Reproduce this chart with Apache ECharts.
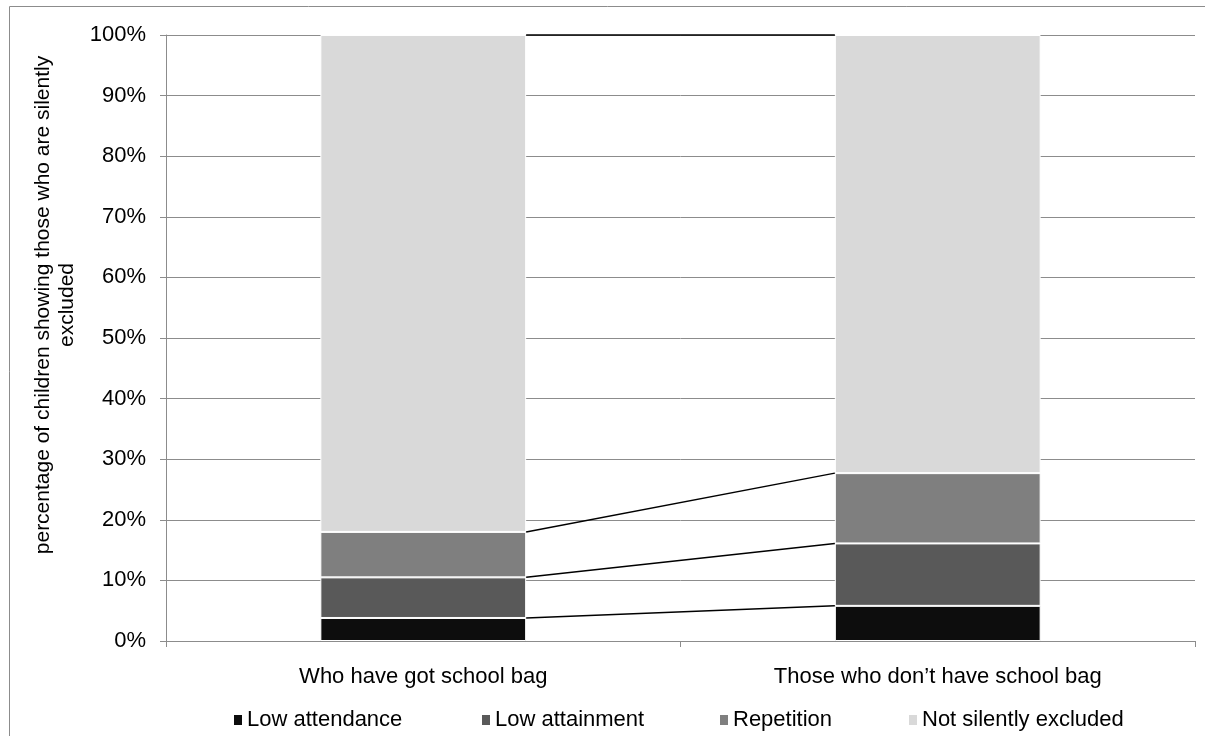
<!DOCTYPE html>
<html>
<head>
<meta charset="utf-8">
<script src="https://cdn.jsdelivr.net/npm/echarts@6/dist/echarts.min.js"></script>
<style>
html,body{margin:0;padding:0;background:#fff;}
#chart{width:1205px;height:736px;}
</style>
</head>
<body>
<div id="chart"></div>
<script>
const categories = ['Who have got school bag', 'Those who don\u2019t have school bag'];
const seriesNames = ['Low attendance', 'Low attainment', 'Repetition', 'Not silently excluded'];
const lowAttendance = [3.8, 5.8];
const lowAttainment = [6.7, 10.3];
const repetition = [7.5, 11.6];
const notExcluded = [82.0, 72.3];
const yTicks = [0, 10, 20, 30, 40, 50, 60, 70, 80, 90, 100];
const yTitle = 'percentage of children showing those who are silently\nexcluded';

const colors = ['#0d0d0d', '#595959', '#7f7f7f', '#d9d9d9'];
const FONT = "'Liberation Sans', Arial, sans-serif";
const valueSets = [lowAttendance, lowAttainment, repetition, notExcluded];

// cumulative tops for series lines
const cum = [];
let run = categories.map(() => 0);
valueSets.forEach(vals => {
  run = run.map((r, i) => r + vals[i]);
  cum.push([0, run[0], run[1]]);
});

const chart = echarts.init(document.getElementById('chart'));

const barSeries = valueSets.map((vals, i) => ({
  name: seriesNames[i],
  type: 'bar',
  stack: 'total',
  barWidth: '40%',
  data: vals,
  itemStyle: { color: colors[i], borderColor: '#ffffff', borderWidth: 1 },
  emphasis: { disabled: true }
}));

const lineSeries = {
  type: 'custom',
  name: 'seriesLines',
  z: 5,
  silent: true,
  encode: { x: 0, y: [1, 2] },
  data: cum,
  renderItem: function (params, api) {
    const p0 = api.coord([0, api.value(1)]);
    const p1 = api.coord([1, api.value(2)]);
    const band = api.size([1, 0])[0];
    const hw = band * 0.2;
    return {
      type: 'line',
      shape: { x1: p0[0] + hw, y1: p0[1], x2: p1[0] - hw, y2: p1[1] },
      style: { stroke: '#000', lineWidth: 1.5 }
    };
  }
};

const legendX = [229, 477, 715, 904];
const legends = seriesNames.map((n, i) => ({
  data: [n],
  left: legendX[i],
  top: 704,
  itemWidth: 8,
  itemHeight: 10,
  icon: 'rect',
  selectedMode: false,
  itemStyle: { borderWidth: 0 },
  textStyle: { fontFamily: FONT, fontSize: 22, color: '#000', padding: [0, 0, 0, 0] }
}));

chart.setOption({
  animation: false,
  color: colors,
  textStyle: { fontFamily: FONT },
  graphic: [
    {
      type: 'rect',
      shape: { x: 9.5, y: 6.5, width: 1300, height: 800 },
      style: { fill: 'none', stroke: '#8c8c8c', lineWidth: 1 },
      z: -10
    },
    {
      type: 'text',
      x: 55,
      y: 305,
      rotation: Math.PI / 2,
      style: {
        text: yTitle,
        font: "21px 'Liberation Sans', Arial, sans-serif",
        fill: '#000',
        align: 'center',
        verticalAlign: 'middle',
        lineHeight: 24
      }
    }
  ],
  legend: legends,
  grid: { left: 166, right: 10, top: 35, bottom: 95, containLabel: false },
  xAxis: {
    type: 'category',
    data: categories,
    axisLine: { lineStyle: { color: '#8c8c8c', width: 1 } },
    axisTick: { show: true, length: 6, lineStyle: { color: '#8c8c8c' } },
    axisLabel: { fontFamily: FONT, fontSize: 22, color: '#000', margin: 25 },
    splitLine: { show: false }
  },
  yAxis: {
    type: 'value',
    min: yTicks[0],
    max: yTicks[yTicks.length - 1],
    interval: yTicks[1] - yTicks[0],
    axisLine: { show: true, lineStyle: { color: '#8c8c8c', width: 1 } },
    axisTick: { show: true, length: 6, lineStyle: { color: '#8c8c8c' } },
    axisLabel: { fontFamily: FONT, fontSize: 22, color: '#000', margin: 20, formatter: '{value}%' },
    splitLine: { show: true, lineStyle: { color: '#8c8c8c', width: 1 } }
  },
  series: barSeries.concat([lineSeries])
});
</script>
</body>
</html>
